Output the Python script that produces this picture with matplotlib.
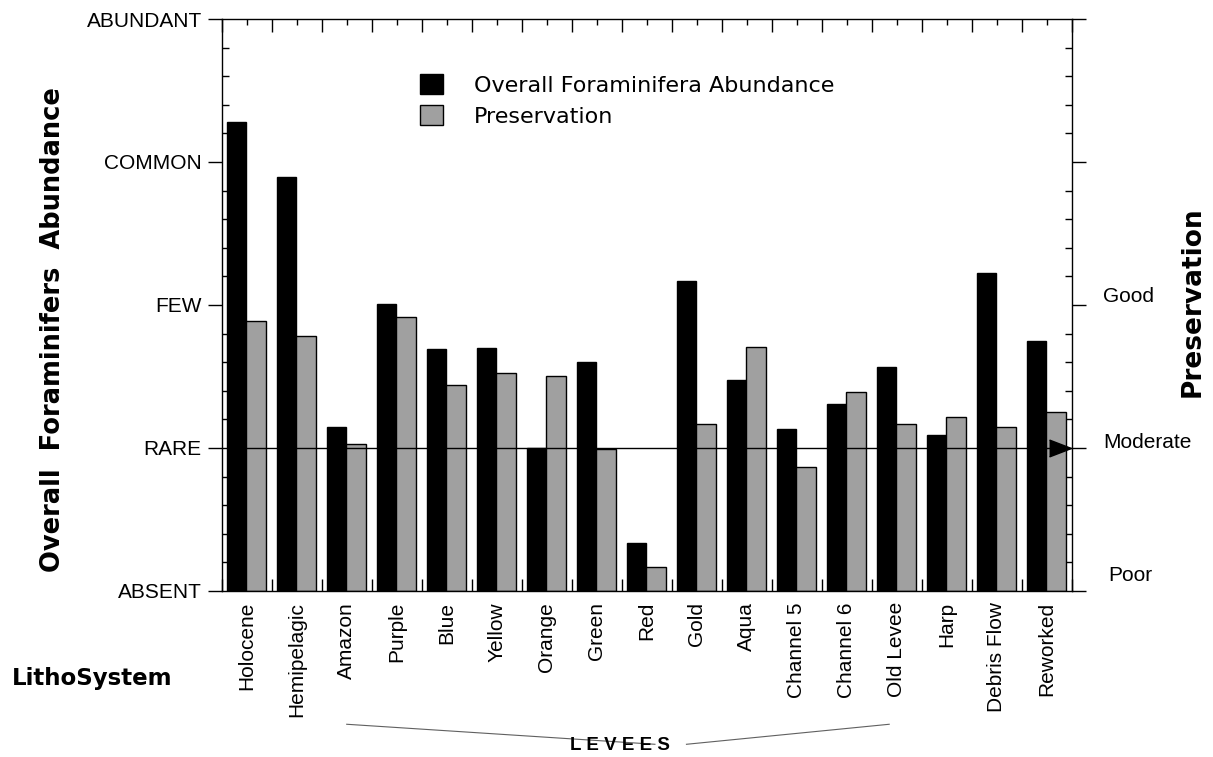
import matplotlib
matplotlib.use('Agg')
import matplotlib.pyplot as plt
import numpy as np
from matplotlib.ticker import MultipleLocator
import matplotlib.transforms as mtransforms

categories = ['Holocene', 'Hemipelagic', 'Amazon', 'Purple', 'Blue', 'Yellow', 'Orange',
              'Green', 'Red', 'Gold', 'Aqua', 'Channel 5', 'Channel 6', 'Old Levee',
              'Harp', 'Debris Flow', 'Reworked']
abundance = [3.28, 2.895, 1.145, 2.007, 1.69, 1.697, 1.0, 1.6, 0.333, 2.168, 1.476,
             1.131, 1.306, 1.564, 1.091, 2.222, 1.748]
preservation = [1.886, 1.781, 1.026, 1.914, 1.438, 1.522, 1.501, 0.995, 0.166, 1.166,
                1.704, 0.865, 1.39, 1.166, 1.215, 1.145, 1.25]
abundance_levels = [0, 1, 2, 3, 4]
abundance_labels = ['ABSENT', 'RARE', 'FEW', 'COMMON', 'ABUNDANT']
preservation_levels = [2, 1, 0]
preservation_labels = ['Good', 'Moderate', 'Poor']
reference_level = 1
levee_first, levee_last = 'Amazon', 'Old Levee'

plt.rcParams['font.family'] = ['Liberation Sans', 'DejaVu Sans']

fig = plt.figure(figsize=(12.13, 7.57), dpi=100)
ax = fig.add_axes([0.1828, 0.2193, 0.7007, 0.7556])

x = np.arange(len(categories))
ax.bar(x - 0.2, abundance, width=0.39, color='black', edgecolor='black', lw=1,
       label='Overall Foraminifera Abundance', zorder=2)
ax.bar(x + 0.19, preservation, width=0.39, color='#a0a0a0', edgecolor='black', lw=1,
       label='Preservation', zorder=2)

ax.set_xlim(-0.5, len(categories) - 0.5)
ax.set_ylim(abundance_levels[0], abundance_levels[-1])
ax.axhline(reference_level, color='black', lw=1, zorder=3)
ax.plot([len(categories) - 0.73], [reference_level],
        marker=[(-1, -0.77), (1, 0), (-1, 0.77)], ms=15.8, color='black',
        clip_on=False, zorder=4, ls='none')

# x ticks
ax.set_xticks(x)
ax.set_xticklabels(categories, rotation=90, fontsize=15)
ax.set_xticks(np.arange(-0.5, len(categories), 1), minor=True)
ax.tick_params(axis='x', which='major', bottom=False, top=True, direction='in',
               length=4.3, width=1, pad=8)
ax.tick_params(axis='x', which='minor', bottom=True, top=True, direction='in',
               length=9, width=1)

# y ticks
ax.set_yticks(abundance_levels)
ax.set_yticklabels(abundance_labels, fontsize=15)
ax.yaxis.set_minor_locator(MultipleLocator(0.2))
ax.tick_params(axis='y', which='major', left=True, right=True, direction='out',
               length=9.9, width=1, pad=4.5)
ax.tick_params(axis='y', which='minor', left=True, right=True, direction='in',
               length=4.9, width=1)
for s in ax.spines.values():
    s.set_linewidth(1)

# right labels
trans_r = mtransforms.blended_transform_factory(ax.transAxes, ax.transData)
offsets = [(0, 5.8), (0, 3.6), (3.6, 11.5)]
for lvl, lab, off in zip(preservation_levels, preservation_labels, offsets):
    ax.annotate(lab, xy=(1.037, lvl), xycoords=trans_r, xytext=off,
                textcoords='offset points', ha='left', va='center', fontsize=15,
                annotation_clip=False)

# axis titles
fig.text(53 / 1213, 1 - 330 / 757, 'Overall  Foraminifers  Abundance', rotation=90,
         ha='center', va='center', fontsize=18.5, fontweight='bold', family='DejaVu Sans')
fig.text(1193 / 1213, 1 - 302 / 757, 'Preservation', rotation=90,
         ha='center', va='center', fontsize=19, fontweight='bold', family='DejaVu Sans')
fig.text(11.7 / 1213, 1 - 678 / 757, 'LithoSystem', ha='left', va='center',
         fontsize=16.5, fontweight='bold', family='DejaVu Sans')

# levees bracket
trans_b = mtransforms.blended_transform_factory(ax.transData, ax.transAxes)
i0 = categories.index(levee_first)
i1 = categories.index(levee_last) - 0.15
mid = (i0 + i1) / 2
ax.plot([i0, mid + 0.74], [-0.233, -0.268], transform=trans_b, color='#606060',
        lw=0.8, clip_on=False)
ax.plot([mid + 1.37, i1], [-0.268, -0.233], transform=trans_b, color='#606060',
        lw=0.8, clip_on=False)
ax.text(mid + 0.04, -0.271, 'L E V E E S', transform=trans_b, ha='center', va='center',
        fontsize=13.5, fontweight='bold')

# legend
ax.legend(loc='upper left', bbox_to_anchor=(420 / 1213, 1 - 74 / 757),
          bbox_transform=fig.transFigure, frameon=False,
          prop={'family': 'DejaVu Sans', 'size': 16},
          handlelength=1.04, handleheight=1.04, handletextpad=1.4,
          labelspacing=0.4, borderpad=0, borderaxespad=0)

fig.savefig('out.png', dpi=100)
